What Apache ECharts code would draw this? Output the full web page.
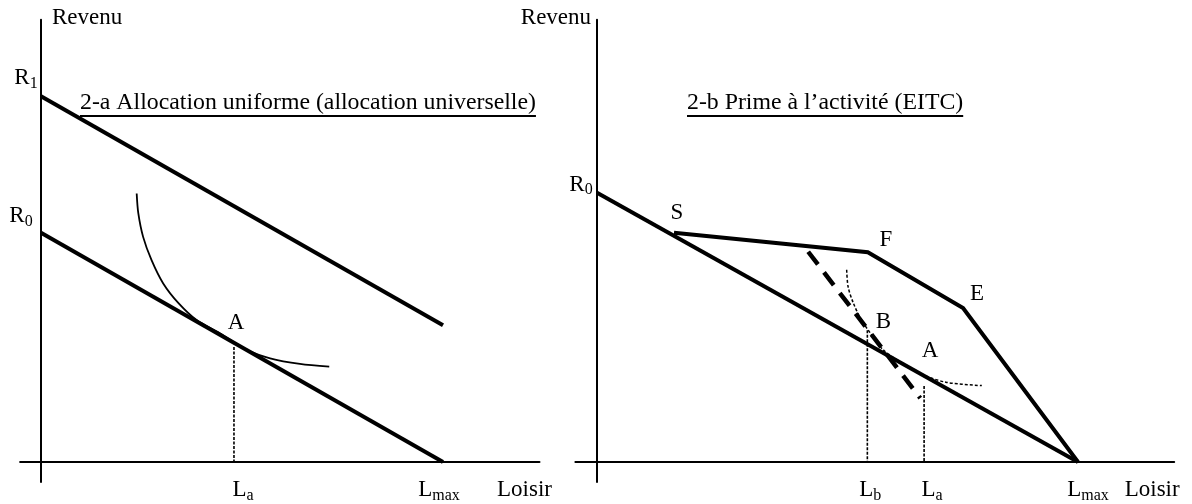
<!DOCTYPE html>
<html><head><meta charset="utf-8">
<script src="https://cdn.jsdelivr.net/npm/echarts@6/dist/echarts.min.js"></script>
<style>html,body{margin:0;padding:0;background:#fff}#c{width:1192px;height:504px}</style>
</head><body><div id="c"></div>
<script>
// ---------- Panel 2-a : allocation uniforme ----------
const aBudgetR0 = [[0, 57], [100, 0]];
const aBudgetR1 = [[0, 91], [100, 34]];
const aIndifference = [[23.8, 66.8], [24.2, 61.9], [25.4, 56.0], [27.5, 50.2], [30.4, 44.4], [34.2, 39.5], [38.7, 35.3], [44.5, 32.0], [51.2, 27.9], [57.0, 25.8], [64.4, 24.4], [71.7, 23.7]];
const aDropLa = [[48, 28.6], [48, 0]];
const aLabelNames = ['R1', 'R0', 'A', 'La', 'Lmax'];
const aLabelPoints = [[0, 91], [0, 57], [48, 29.6], [48, 0], [100, 0]];

// ---------- Panel 2-b : prime à l'activité ----------
const bBudgetR0 = [[0, 67], [100, 0]];
const bBudgetEITC = [[16, 57], [56.3, 52.2], [76.1, 38.3], [100, 0]];
const bSubstitution = [[43.9, 52.3], [67.2, 15.9]];
const bIndifference = [[51.9, 47.8], [52.2, 43.6], [53.3, 39.5], [55.0, 35.3], [57.1, 31.6], [59.5, 27.9], [63.0, 24.9], [67.8, 21.7], [72.7, 19.8], [80.0, 19.0]];
const bDropLb = [[56.2, 32.8], [56.2, 0]];
const bDropLa = [[68, 18.9], [68, 0]];
const bLabelNames = ['R0', 'S', 'F', 'E', 'B', 'A', 'Lb', 'La', 'Lmax'];
const bLabelPoints = [[0, 67], [16, 57], [56.3, 52.2], [76.1, 38.3], [56.2, 32.8], [68, 21.4], [56.2, 0], [68, 0], [100, 0]];

const titles = ['2-a Allocation uniforme (allocation universelle)', '2-b Prime à l’activité (EITC)'];
const axisNameY = 'Revenu';
const axisNameX = 'Loisir';

// ---------- styling ----------
const FONT = 'Liberation Serif';
const FS = 23;
const TFS = 23.8;
const noBorder = { textBorderWidth: 0, textBorderColor: 'transparent', textShadowBlur: 0 };
const subRich = {
  m: Object.assign({ fontFamily: FONT, fontSize: FS, color: '#000' }, noBorder),
  s: Object.assign({ fontFamily: FONT, fontSize: 16, color: '#000', padding: [11, 0, 0, 0] }, noBorder)
};
function richText(name) {
  const m = name.match(/^([A-Z])(.*)$/);
  return m[2] ? '{m|' + m[1] + '}{s|' + m[2] + '}' : '{m|' + m[1] + '}';
}
const aOffsets = { R1: [-15, -18], R0: [-20, -17], A: [2, -20], La: [9, 28], Lmax: [-4, 28] };
const bOffsets = { R0: [-16, -8], S: [3, -20], F: [18, -12], E: [14, -14], B: [16, -8], A: [6, -25], Lb: [3, 28], La: [8, 28], Lmax: [10, 28] };

function lineSeries(idx, data, style) {
  return { type: 'line', xAxisIndex: idx, yAxisIndex: idx, data: data, symbol: 'none', silent: true,
    lineStyle: Object.assign({ color: '#000', cap: 'butt', join: 'miter' }, style), z: 3 };
}
function smoothSeries(idx, data, style) {
  const s = lineSeries(idx, data, style);
  s.smooth = 0.3;
  return s;
}
function labelSeries(idx, names, points, offsets) {
  return { type: 'scatter', xAxisIndex: idx, yAxisIndex: idx, symbolSize: 0, silent: true, z: 5,
    itemStyle: { color: '#000', opacity: 1 },
    data: names.map((n, i) => ({ value: points[i], name: n,
      label: Object.assign({ show: true, position: 'inside', color: '#000', opacity: 1, formatter: richText(n), rich: subRich, offset: offsets[n] }, noBorder) })) };
}

const grids = [
  { left: 20.1, top: 19.8, width: 519.4, height: 462.3 },
  { left: 575.4, top: 19.8, width: 598.8, height: 462.3 }
];
const xRanges = [[-5.2, 124], [-4.5, 120]];
const axLine = { show: true, onZero: true, lineStyle: { color: '#000', width: 2 } };

const xAxes = [0, 1].map(i => ({
  type: 'value', gridIndex: i, min: xRanges[i][0], max: xRanges[i][1],
  axisLine: axLine, axisTick: { show: false }, axisLabel: { show: false }, splitLine: { show: false },
  name: '{n|' + axisNameX + '}', nameLocation: 'end', nameGap: i === 0 ? -15 : -22,
  nameTextStyle: { align: 'center', verticalAlign: 'middle',
    rich: { n: { fontFamily: FONT, fontSize: FS, color: '#000', padding: [56, 0, 0, 0] } } }
}));
const yAxes = [0, 1].map(i => ({
  type: 'value', gridIndex: i, min: -5, max: 110,
  axisLine: axLine, axisTick: { show: false }, axisLabel: { show: false }, splitLine: { show: false },
  name: axisNameY, nameLocation: 'end', nameGap: 2,
  nameTextStyle: { fontFamily: FONT, fontSize: FS, color: '#000', verticalAlign: 'middle',
    align: i === 0 ? 'left' : 'right', padding: i === 0 ? [0, 0, 0, 11] : [0, 6, 0, 0] }
}));

const thick = { width: 4 };
const drop = { width: 1.6, type: [3, 1.5] };
const series = [
  lineSeries(0, aBudgetR0, thick),
  lineSeries(0, aBudgetR1, thick),
  smoothSeries(0, aIndifference, { width: 1.8 }),
  lineSeries(0, aDropLa, drop),
  labelSeries(0, aLabelNames, aLabelPoints, aOffsets),
  lineSeries(1, bBudgetR0, thick),
  lineSeries(1, bBudgetEITC, thick),
  lineSeries(1, bSubstitution, { width: 4.5, type: [16, 10] }),
  smoothSeries(1, bIndifference, { width: 1.5, type: [3, 2] }),
  lineSeries(1, bDropLb, drop),
  lineSeries(1, bDropLa, drop),
  labelSeries(1, bLabelNames, bLabelPoints, bOffsets)
];

// titles with underline
const ctx = document.createElement('canvas').getContext('2d');
ctx.font = TFS + 'px "' + FONT + '"';
const titleX = [80, 687];
const graphic = [];
titles.forEach((t, i) => {
  const w = ctx.measureText(t).width;
  graphic.push({ type: 'text', left: titleX[i], top: 91, silent: true,
    style: { text: t, fontSize: TFS, fontFamily: FONT, fill: '#000' } });
  graphic.push({ type: 'rect', left: titleX[i], top: 115, silent: true,
    shape: { width: w, height: 2 }, style: { fill: '#000' } });
});

const chart = echarts.init(document.getElementById('c'), null, { renderer: 'canvas' });
chart.setOption({
  animation: false,
  backgroundColor: '#fff',
  textStyle: { fontFamily: FONT },
  grid: grids, xAxis: xAxes, yAxis: yAxes, series: series, graphic: graphic
});
</script></body></html>
